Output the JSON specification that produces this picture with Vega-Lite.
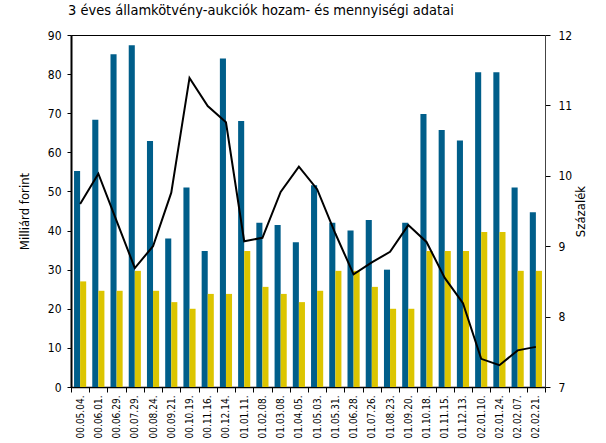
{
  "$schema": "https://vega.github.io/schema/vega-lite/v6.json",
  "width": 474,
  "height": 352,
  "autosize": {"type": "none"},
  "padding": {"left": 71, "top": 35, "right": 61, "bottom": 56},
  "background": "white",
  "title": {
    "text": "3 éves államkötvény-aukciók hozam- és mennyiségi adatai",
    "anchor": "start",
    "frame": "group",
    "dx": -3,
    "offset": 11,
    "font": "DejaVu Sans Condensed, Roboto, sans-serif",
    "fontSize": 14.5,
    "fontWeight": "normal",
    "color": "black"
  },
  "config": {
    "view": {"stroke": "black", "strokeWidth": 1},
    "axis": {
      "labelFont": "DejaVu Sans Condensed, Roboto, sans-serif",
      "titleFont": "DejaVu Sans Condensed, Roboto, sans-serif",
      "labelColor": "black",
      "titleColor": "black",
      "domainColor": "black",
      "tickColor": "black",
      "grid": false,
      "labelFontSize": 12,
      "titleFontSize": 13,
      "titleFontWeight": "normal"
    }
  },
  "data": {
    "values": [
      {"d": "00.05.04.", "Benyújtott": 55.2, "Elfogadott": 27, "hozam": 9.6},
      {"d": "00.06.01.", "Benyújtott": 68.3, "Elfogadott": 24.6, "hozam": 10.03},
      {"d": "00.06.29.", "Benyújtott": 85.1, "Elfogadott": 24.6, "hozam": 9.36},
      {"d": "00.07.29.", "Benyújtott": 87.4, "Elfogadott": 29.7, "hozam": 8.69},
      {"d": "00.08.24.", "Benyújtott": 62.9, "Elfogadott": 24.6, "hozam": 9.0},
      {"d": "00.09.21.", "Benyújtott": 38, "Elfogadott": 21.7, "hozam": 9.76},
      {"d": "00.10.19.", "Benyújtott": 51, "Elfogadott": 20, "hozam": 11.39},
      {"d": "00.11.16.", "Benyújtott": 34.8, "Elfogadott": 23.8, "hozam": 10.99},
      {"d": "00.12.14.", "Benyújtott": 84, "Elfogadott": 23.8, "hozam": 10.76},
      {"d": "01.01.11.", "Benyújtott": 68, "Elfogadott": 34.8, "hozam": 9.07},
      {"d": "01.02.08.", "Benyújtott": 42, "Elfogadott": 25.6, "hozam": 9.12},
      {"d": "01.03.08.", "Benyújtott": 41.4, "Elfogadott": 23.8, "hozam": 9.77},
      {"d": "01.04.05.", "Benyújtott": 37, "Elfogadott": 21.7, "hozam": 10.13},
      {"d": "01.05.03.", "Benyújtott": 51.6, "Elfogadott": 24.6, "hozam": 9.81},
      {"d": "01.05.31.", "Benyújtott": 42, "Elfogadott": 29.7, "hozam": 9.18},
      {"d": "01.06.28.", "Benyújtott": 40, "Elfogadott": 29.7, "hozam": 8.6},
      {"d": "01.07.26.", "Benyújtott": 42.7, "Elfogadott": 25.6, "hozam": 8.77},
      {"d": "01.08.23.", "Benyújtott": 30, "Elfogadott": 20, "hozam": 8.92},
      {"d": "01.09.20.", "Benyújtott": 42, "Elfogadott": 20, "hozam": 9.3},
      {"d": "01.10.18.", "Benyújtott": 69.8, "Elfogadott": 34.8, "hozam": 9.06},
      {"d": "01.11.15.", "Benyújtott": 65.7, "Elfogadott": 34.8, "hozam": 8.55},
      {"d": "01.12.13.", "Benyújtott": 63, "Elfogadott": 34.8, "hozam": 8.19},
      {"d": "02.01.10.", "Benyújtott": 80.5, "Elfogadott": 39.6, "hozam": 7.4},
      {"d": "02.01.24.", "Benyújtott": 80.5, "Elfogadott": 39.6, "hozam": 7.31},
      {"d": "02.02.07.", "Benyújtott": 51, "Elfogadott": 29.7, "hozam": 7.52},
      {"d": "02.02.21.", "Benyújtott": 44.7, "Elfogadott": 29.7, "hozam": 7.57}
    ]
  },
  "encoding": {
    "x": {
      "field": "d",
      "type": "nominal",
      "sort": null,
      "scale": {"paddingInner": 0, "paddingOuter": 0},
      "axis": {
        "title": null,
        "labelAngle": -90,
        "labelAlign": "right",
        "labelBaseline": "middle",
        "labelFontSize": 10,
        "labelPadding": 3,
        "tickBand": "extent",
        "tickSize": 5,
        "domainWidth": 1.5
      }
    }
  },
  "layer": [
    {
      "transform": [{"fold": ["Benyújtott", "Elfogadott"], "as": ["sorozat", "ertek"]}],
      "mark": {"type": "bar"},
      "encoding": {
        "xOffset": {
          "field": "sorozat",
          "type": "nominal",
          "sort": ["Benyújtott", "Elfogadott"],
          "scale": {"paddingInner": 0, "paddingOuter": 0.5}
        },
        "y": {
          "field": "ertek",
          "type": "quantitative",
          "scale": {"domain": [0, 90], "nice": false},
          "axis": {
            "title": "Milliárd forint",
            "values": [0, 10, 20, 30, 40, 50, 60, 70, 80, 90],
            "tickSize": 4,
            "labelPadding": 6,
            "titlePadding": 16,
            "domainWidth": 2
          }
        },
        "color": {
          "field": "sorozat",
          "type": "nominal",
          "scale": {"domain": ["Benyújtott", "Elfogadott"], "range": ["#005e8a", "#dcc500"]},
          "legend": null
        }
      }
    },
    {
      "mark": {"type": "line", "color": "black", "strokeWidth": 2},
      "encoding": {
        "y": {
          "field": "hozam",
          "type": "quantitative",
          "scale": {"domain": [7, 12], "nice": false, "zero": false},
          "axis": {
            "orient": "right",
            "title": "Százalék",
            "values": [7, 8, 9, 10, 11, 12],
            "tickSize": 5,
            "labelPadding": 8,
            "titlePadding": 16,
            "titleAngle": -90,
            "domainColor": "#444"
          }
        }
      }
    }
  ],
  "resolve": {"scale": {"y": "independent"}}
}
